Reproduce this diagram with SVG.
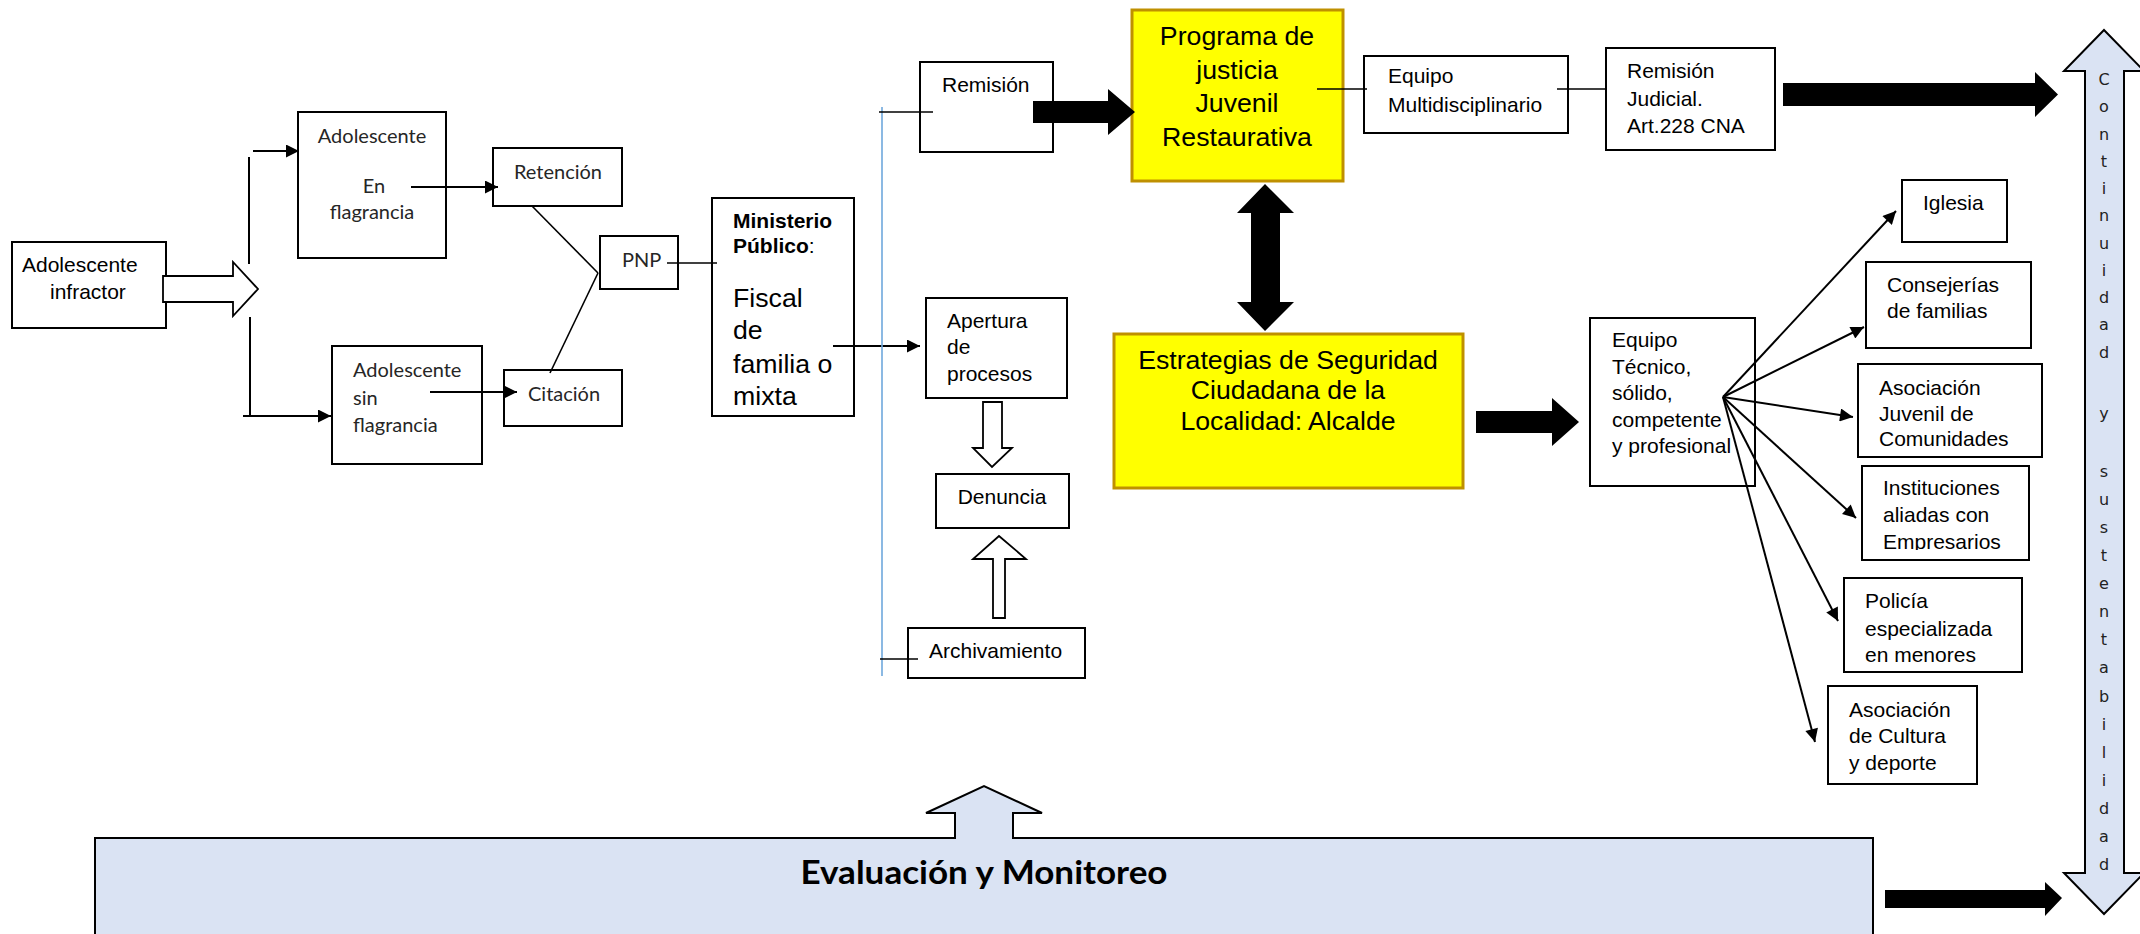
<svg xmlns="http://www.w3.org/2000/svg" width="2140" height="934" viewBox="0 0 2140 934">
<style>
.box{fill:#fff;stroke:#000;stroke-width:2}
.ybox{fill:#ffff00;stroke:#bf9000;stroke-width:3}
.ln{stroke:#000;stroke-width:2;fill:none}
.thin{stroke:#000;stroke-width:1.6;fill:none}
.ar{font-family:"Liberation Sans",Arial,sans-serif;font-size:21px;fill:#000}
.big{font-size:26.7px}
.cal{font-family:Lato,"Open Sans",sans-serif;font-size:20px;fill:#262626}
.vt{font-family:"DejaVu Sans",Verdana,sans-serif;font-size:16px;fill:#222}
.hollow{fill:#fff;stroke:#000;stroke-width:1.8}
.solid{fill:#000;stroke:none}
</style>
<defs>
<marker id="ah" viewBox="0 0 10 10" refX="10" refY="5" markerWidth="15" markerHeight="13" markerUnits="userSpaceOnUse" orient="auto"><path d="M0,0 L10,5 L0,10 z" fill="#000"/></marker>
<clipPath id="clipMin"><rect x="712" y="198" width="142" height="209"/></clipPath>
<clipPath id="clipInst"><rect x="1862" y="466" width="167" height="84"/></clipPath>
</defs>

<g id="n_infractor">
<rect class="box" x="12" y="242" width="154" height="86"/>
<text class="ar" x="22" y="272">Adolescente</text>
<text class="ar" x="50" y="299">infractor</text>
</g>
<g id="n_enflagrancia">
<rect class="box" x="298" y="112" width="148" height="146"/>
<text class="cal" x="372" y="143" text-anchor="middle">Adolescente</text>
<text class="cal" x="374" y="193" text-anchor="middle">En</text>
<text class="cal" x="372" y="219" text-anchor="middle">flagrancia</text>
</g>
<g id="n_sinflagrancia">
<rect class="box" x="332" y="346" width="150" height="118"/>
<text class="cal" x="353" y="377">Adolescente</text>
<text class="cal" x="353" y="405">sin</text>
<text class="cal" x="353" y="432">flagrancia</text>
</g>
<g id="n_retencion">
<rect class="box" x="493" y="148" width="129" height="58"/>
<text class="cal" x="558" y="179" text-anchor="middle">Retención</text>
</g>
<g id="n_citacion">
<rect class="box" x="504" y="370" width="118" height="56"/>
<text class="cal" x="528" y="401">Citación</text>
</g>
<g id="n_pnp">
<rect class="box" x="600" y="236" width="78" height="53"/>
<text class="cal" x="622" y="267">PNP</text>
</g>
<g id="n_ministerio">
<rect class="box" x="712" y="198" width="142" height="218"/>
<g clip-path="url(#clipMin)">
<text class="ar" x="733" y="228" font-weight="bold">Ministerio</text>
<text class="ar" x="733" y="253"><tspan font-weight="bold">Público</tspan>:</text>
<text class="ar big" x="733" y="307">Fiscal</text>
<text class="ar big" x="733" y="339">de</text>
<text class="ar big" x="733" y="373">familia o</text>
<text class="ar big" x="733" y="405">mixta</text>
</g>
</g>
<g id="n_remision">
<rect class="box" x="920" y="62" width="133" height="90"/>
<text class="ar" x="942" y="92">Remisión</text>
</g>
<g id="n_apertura">
<rect class="box" x="926" y="298" width="141" height="100"/>
<text class="ar" x="947" y="328">Apertura</text>
<text class="ar" x="947" y="354">de</text>
<text class="ar" x="947" y="381">procesos</text>
</g>
<g id="n_denuncia">
<rect class="box" x="936" y="474" width="133" height="54"/>
<text class="ar" x="1002" y="504" text-anchor="middle">Denuncia</text>
</g>
<g id="n_archivamiento">
<rect class="box" x="908" y="628" width="177" height="50"/>
<text class="ar" x="929" y="658">Archivamiento</text>
</g>
<g id="n_programa">
<rect class="ybox" x="1132" y="10" width="211" height="171"/>
<text class="ar big" text-anchor="middle"><tspan x="1237" y="45">Programa de</tspan><tspan x="1237" y="79">justicia</tspan><tspan x="1237" y="112">Juvenil</tspan><tspan x="1237" y="146">Restaurativa</tspan></text>
</g>
<g id="n_estrategias">
<rect class="ybox" x="1114" y="334" width="349" height="154"/>
<text class="ar big" text-anchor="middle"><tspan x="1288" y="369">Estrategias de Seguridad</tspan><tspan x="1288" y="399">Ciudadana de la</tspan><tspan x="1288" y="430">Localidad: Alcalde</tspan></text>
</g>
<g id="n_equipo_multi">
<rect class="box" x="1364" y="56" width="204" height="77"/>
<text class="ar" x="1388" y="83">Equipo</text>
<text class="ar" x="1388" y="112">Multidisciplinario</text>
</g>
<g id="n_remision_judicial">
<rect class="box" x="1606" y="48" width="169" height="102"/>
<text class="ar" x="1627" y="78">Remisión</text>
<text class="ar" x="1627" y="106">Judicial.</text>
<text class="ar" x="1627" y="133">Art.228 CNA</text>
</g>
<g id="n_equipo_tecnico">
<rect class="box" x="1590" y="318" width="165" height="168"/>
<text class="ar"><tspan x="1612" y="347">Equipo</tspan><tspan x="1612" y="374">Técnico,</tspan><tspan x="1612" y="400">sólido,</tspan><tspan x="1612" y="427">competente</tspan><tspan x="1612" y="453">y profesional</tspan></text>
</g>
<g id="n_iglesia">
<rect class="box" x="1902" y="180" width="105" height="62"/>
<text class="ar" x="1923" y="210">Iglesia</text>
</g>
<g id="n_consejerias">
<rect class="box" x="1866" y="262" width="165" height="86"/>
<text class="ar"><tspan x="1887" y="292">Consejerías</tspan><tspan x="1887" y="318">de familias</tspan></text>
</g>
<g id="n_asoc_juvenil">
<rect class="box" x="1858" y="364" width="184" height="93"/>
<text class="ar"><tspan x="1879" y="395">Asociación</tspan><tspan x="1879" y="421">Juvenil de</tspan><tspan x="1879" y="446">Comunidades</tspan></text>
</g>
<g id="n_instituciones">
<rect class="box" x="1862" y="466" width="167" height="94"/>
<text class="ar" clip-path="url(#clipInst)"><tspan x="1883" y="495">Instituciones</tspan><tspan x="1883" y="522">aliadas con</tspan><tspan x="1883" y="549">Empresarios</tspan></text>
</g>
<g id="n_policia">
<rect class="box" x="1844" y="578" width="178" height="94"/>
<text class="ar"><tspan x="1865" y="608">Policía</tspan><tspan x="1865" y="636">especializada</tspan><tspan x="1865" y="662">en menores</tspan></text>
</g>
<g id="n_asoc_cultura">
<rect class="box" x="1828" y="686" width="149" height="98"/>
<text class="ar"><tspan x="1849" y="717">Asociación</tspan><tspan x="1849" y="743">de Cultura</tspan><tspan x="1849" y="770">y deporte</tspan></text>
</g>
<g id="n_evaluacion">
<path d="M95,940 L95,838 L955,838 L955,813 L926,813 L984,786 L1042,813 L1013,813 L1013,838 L1873,838 L1873,940 Z" fill="#dae3f3" stroke="#000" stroke-width="2"/>
<text x="984" y="884" text-anchor="middle" font-family="Lato,'Open Sans',sans-serif" font-weight="bold" font-size="33" textLength="367" lengthAdjust="spacingAndGlyphs" fill="#000">Evaluación y Monitoreo</text>
</g>
<g id="n_continuidad">
<polygon points="2104,30 2144,71 2124,71 2124,873 2144,873 2104,914 2064,873 2085,873 2085,71 2064,71" fill="#dae3f3" stroke="#000" stroke-width="2"/>
<text class="vt" text-anchor="middle"><tspan x="2104" y="85">C</tspan><tspan x="2104" y="112.25">o</tspan><tspan x="2104" y="139.5">n</tspan><tspan x="2104" y="166.75">t</tspan><tspan x="2104" y="194">i</tspan><tspan x="2104" y="221.25">n</tspan><tspan x="2104" y="248.5">u</tspan><tspan x="2104" y="275.75">i</tspan><tspan x="2104" y="303">d</tspan><tspan x="2104" y="330.25">a</tspan><tspan x="2104" y="357.5">d</tspan><tspan x="2104" y="419">y</tspan><tspan x="2104" y="477">s</tspan><tspan x="2104" y="505.07">u</tspan><tspan x="2104" y="533.14">s</tspan><tspan x="2104" y="561.21">t</tspan><tspan x="2104" y="589.28">e</tspan><tspan x="2104" y="617.35">n</tspan><tspan x="2104" y="645.42">t</tspan><tspan x="2104" y="673.49">a</tspan><tspan x="2104" y="701.56">b</tspan><tspan x="2104" y="729.63">i</tspan><tspan x="2104" y="757.7">l</tspan><tspan x="2104" y="785.77">i</tspan><tspan x="2104" y="813.84">d</tspan><tspan x="2104" y="841.91">a</tspan><tspan x="2104" y="870">d</tspan></text>
</g>

<g id="connectors">
<line class="ln" x1="249" y1="157" x2="249" y2="264"/>
<line class="ln" x1="253" y1="151" x2="299" y2="151" marker-end="url(#ah)"/>
<line class="ln" x1="250" y1="317" x2="250" y2="416"/>
<line class="ln" x1="243" y1="416" x2="331" y2="416" marker-end="url(#ah)"/>
<line class="ln" x1="411" y1="187" x2="498" y2="187" marker-end="url(#ah)"/>
<line class="ln" x1="430" y1="392" x2="517" y2="392" marker-end="url(#ah)"/>
<line class="thin" x1="532" y1="206" x2="598" y2="273"/>
<line class="thin" x1="550" y1="373" x2="598" y2="273"/>
<line class="thin" x1="667" y1="263" x2="717" y2="263"/>
<line class="ln" x1="833" y1="346" x2="920" y2="346" marker-end="url(#ah)"/>
<line x1="882" y1="107" x2="882" y2="676" stroke="#6fa8dc" stroke-width="1.6"/>
<line class="thin" x1="879" y1="112" x2="933" y2="112"/>
<line class="thin" x1="880" y1="659" x2="918" y2="659"/>
<line class="thin" x1="1317" y1="89" x2="1367" y2="89"/>
<line class="thin" x1="1557" y1="89" x2="1606" y2="89"/>
<polygon class="hollow" points="163,276 233,276 233,262 258,289 233,316 233,302 163,302"/>
<polygon class="hollow" points="983,402 1002,402 1002,448 1012,448 992,467 973,448 983,448"/>
<polygon class="hollow" points="993,618 1005,618 1005,559 1026,559 999,536 973,559 993,559"/>
<polygon class="solid" points="1033,101 1108,101 1108,89 1135,112 1108,135 1108,123 1033,123"/>
<polygon class="solid" points="1265,184 1294,213 1280,213 1280,302 1294,302 1265,331 1237,302 1251,302 1251,213 1237,213"/>
<polygon class="solid" points="1476,411 1552,411 1552,398 1579,422 1552,446 1552,433 1476,433"/>
<polygon class="solid" points="1783,83 2035,83 2035,72 2058,94.5 2035,117 2035,106 1783,106"/>
<polygon class="solid" points="1885,890 2045,890 2045,882 2062,898 2045,916 2045,908 1885,908"/>
<line class="ln" x1="1723" y1="397" x2="1896" y2="211" marker-end="url(#ah)"/>
<line class="ln" x1="1723" y1="397" x2="1864" y2="327" marker-end="url(#ah)"/>
<line class="ln" x1="1723" y1="397" x2="1853" y2="417" marker-end="url(#ah)"/>
<line class="ln" x1="1723" y1="397" x2="1856" y2="518" marker-end="url(#ah)"/>
<line class="ln" x1="1723" y1="397" x2="1838" y2="621" marker-end="url(#ah)"/>
<line class="ln" x1="1723" y1="397" x2="1815" y2="742" marker-end="url(#ah)"/>
</g>
</svg>
